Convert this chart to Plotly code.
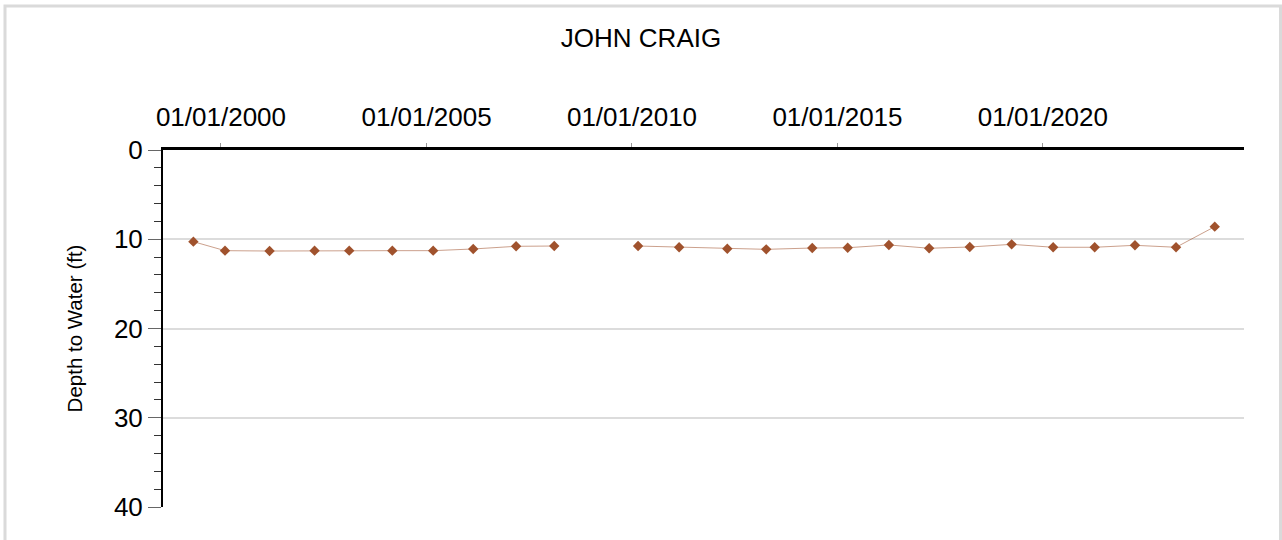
import plotly.graph_objects as go
import pandas as pd

# Well: JOHN CRAIG — depth to water measurements
dates = [
    "1999-05-01", "2000-02-06", "2001-03-08", "2002-04-12", "2003-02-14",
    "2004-03-03", "2005-03-01", "2006-02-20", "2007-03-08", "2008-02-10",
    "2010-02-24", "2011-02-24", "2012-04-27", "2013-04-08", "2014-05-22",
    "2015-04-02", "2016-04-02", "2017-03-26", "2018-03-22", "2019-03-29",
    "2020-04-01", "2021-04-05", "2022-03-29", "2023-03-29", "2024-03-07",
]
depth_ft = [
    10.27, 11.28, 11.32, 11.28, 11.28,
    11.28, 11.28, 11.09, 10.79, 10.76,
    10.76, 10.90, 11.06, 11.13, 10.98,
    10.95, 10.64, 11.01, 10.87, 10.57,
    10.90, 10.90, 10.68, 10.90, 8.59,
]
x_tickvals = ["2000-01-01", "2005-01-01", "2010-01-01", "2015-01-01", "2020-01-01"]
x_ticktext = ["01/01/2000", "01/01/2005", "01/01/2010", "01/01/2015", "01/01/2020"]

W, H = 1282, 540
L, R, T, B = 163, 1244, 150, 507  # plot area in pixels

# break the line where no measurement was taken for more than ~18 months
d = pd.to_datetime(dates)
xs, ys = [], []
for i, (dt, v) in enumerate(zip(d, depth_ft)):
    if i > 0 and (dt - d[i - 1]).days > 550:
        xs.append(None)
        ys.append(None)
    xs.append(dt)
    ys.append(v)

font = "Arial, Liberation Sans, sans-serif"

fig = go.Figure()
fig.add_trace(go.Scatter(
    x=xs, y=ys, mode="lines+markers", connectgaps=False,
    line=dict(color="rgba(160,82,45,0.55)", width=1),
    marker=dict(symbol="diamond", size=8, color="#a0522d"),
    showlegend=False, hoverinfo="x+y",
))


def px_x(p):
    return (p - L) / (R - L)


def px_y(p):
    return (B - p) / (B - T)


# light frame around the chart
fig.add_shape(type="rect", xref="paper", yref="paper",
              x0=px_x(5), x1=px_x(1280.5), y0=px_y(560), y1=px_y(6),
              line=dict(color="#dadada", width=3), layer="below")

fig.update_layout(
    width=W, height=H,
    margin=dict(l=L, r=W - R, t=T, b=H - B, pad=0),
    paper_bgcolor="white", plot_bgcolor="white",
    font=dict(family=font, color="black"),
    title=dict(text="JOHN CRAIG", x=0.5, xref="container", xanchor="center",
               y=1 - 38 / H, yref="container", yanchor="middle",
               font=dict(size=26, family=font, color="black")),
    xaxis=dict(
        type="date", side="top",
        range=["1998-08-04", "2024-11-22"],
        tickvals=x_tickvals, ticktext=x_ticktext,
        tickfont=dict(size=26, family=font),
        ticks="outside", ticklen=4, tickcolor="#999", tickwidth=1,
        ticklabelstandoff=7,
        showline=True, linecolor="black", linewidth=3,
        showgrid=False, zeroline=False,
    ),
    yaxis=dict(
        range=[40, 0], dtick=10, tick0=0,
        tickfont=dict(size=26, family=font),
        ticks="outside", ticklen=13, tickcolor="#666", tickwidth=1,
        showline=True, linecolor="black", linewidth=2,
        showgrid=True, gridcolor="#dcdcdc", gridwidth=2,
        zeroline=False,
        minor=dict(dtick=2, ticks="outside", ticklen=7, tickcolor="#333",
                   tickwidth=1, showgrid=False),
        title=dict(text="Depth to Water (ft)", standoff=26,
                   font=dict(size=20.5, family=font)),
    ),
)

fig.write_html("out.html")
